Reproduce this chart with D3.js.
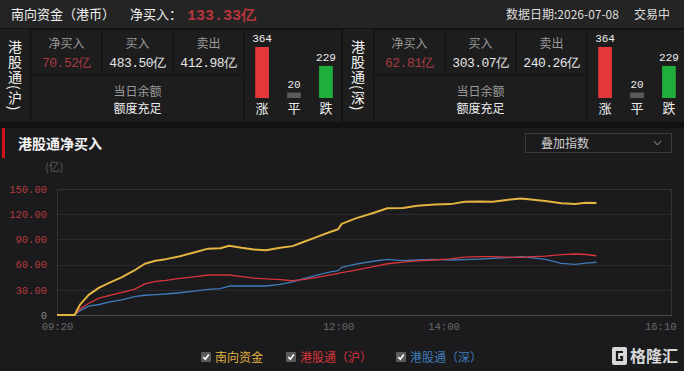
<!DOCTYPE html>
<html>
<head>
<meta charset="utf-8">
<script src="https://cdn.jsdelivr.net/npm/d3@7"></script>
<style>
  html, body { margin: 0; padding: 0; background: #121212; }
  svg { display: block; font-family: "Noto Sans CJK SC", "Noto Sans", sans-serif; }
  .mono { font-family: "Liberation Mono", "DejaVu Sans Mono", monospace; }
</style>
</head>
<body>
<div id="chart"></div>
<script>
// intraday net buy (亿), trading minutes with lunch break removed
const times = ["09:20","09:30","09:33","09:38","09:44","09:50","09:57","10:04","10:10","10:16","10:22","10:30","10:38","10:46","10:53","10:58","11:05","11:12","11:19","11:27","11:34","11:41","11:48","11:55","12:00","13:02","13:10","13:20","13:28","13:37","13:45","13:55","14:04","14:12","14:20","14:28","14:36","14:44","14:51","14:58","15:07","15:15","15:21","15:27"]
const southbound = [0,0,12,24,32.5,38.5,45,53,61,64.5,66.5,70,74.5,79,79.5,82.5,80,78,77,80,82,87.5,93,98.5,102,108.5,115,121.5,127,127.5,130,131.5,132,134.8,135,134.8,137,138.8,137.3,135.7,133,132.2,133.5,133.33]
const shanghai = [0,0,7,14,20,23.5,27,30.6,37,40,41.2,43.5,45.5,47.6,47.8,47.6,45.6,43.8,43,42,40.8,42.5,44.8,47.5,49.6,50.5,53.5,57.5,61,63,64.5,65.5,66.7,69,69.4,69.4,69,68.7,69.5,70.2,71.8,72.6,72,70.52]
const shenzhen = [0,0,5,10.5,12.5,15.5,18,21.8,23.5,24.3,25,26.5,28.5,30.6,31.5,34.5,34.5,34.5,34.5,36.5,39.5,43.5,47.6,51,52.8,56.7,60.5,64,66.3,64.8,65.5,66.3,65.5,66,66.5,67.3,68.2,69.4,68,66.3,61.5,60.3,61.8,62.81]

const yTicks = [0, 30, 60, 90, 120, 150]
const xTickLabels = ["09:20", "12:00", "14:00", "16:10"]

const seriesNames = ["南向资金", "港股通（沪）", "港股通（深）"]
const seriesColors = ["#e3b440", "#d8353b", "#3f7bba"]

// summary panels
const panelNames = ["港股通(沪)", "港股通(深)"]
const panelNetBuy = ["70.52亿", "62.81亿"]
const panelBuy = ["483.50亿", "303.07亿"]
const panelSell = ["412.98亿", "240.26亿"]
const breadthLabels = ["涨", "平", "跌"]
const breadthCounts = [364, 20, 229]
const breadthColors = ["#e3373a", "#5a5a5a", "#1fae3c"]

const width = 684
const height = 371

const svg = d3.select("#chart")
  .append("svg")
  .attr("width", width)
  .attr("height", height)

// ---------- header bar ----------
svg.append("rect").attr("x", 0).attr("y", 0).attr("width", width).attr("height", 28).attr("fill", "#242424")

svg.append("text").attr("x", 11).attr("y", 19).attr("fill", "#f0f0f0").attr("font-size", 13).text("南向资金（港币）")
svg.append("text").attr("x", 130).attr("y", 19).attr("fill", "#f0f0f0").attr("font-size", 13).text("净买入：")
svg.append("text").attr("x", 187).attr("y", 20).attr("fill", "#b8343e").attr("font-size", 15)
  .attr("font-weight", "bold").attr("class", "mono").text("133.33亿")
svg.append("text").attr("x", 506).attr("y", 19).attr("fill", "#dddddd").attr("font-size", 12).text("数据日期:2026-07-08")
svg.append("text").attr("x", 634).attr("y", 19).attr("fill", "#dddddd").attr("font-size", 12).text("交易中")

// ---------- connect panels ----------
const panelTop = 29
const panelBottom = 122

panelNames.forEach((name, i) => {
  const ox = i * 343
  const p = svg.append("g").attr("transform", `translate(${ox},0)`)

  p.append("rect").attr("x", 0).attr("y", panelTop).attr("width", 341).attr("height", panelBottom - panelTop).attr("fill", "#161617")
  p.append("rect").attr("x", 0).attr("y", panelTop).attr("width", 30).attr("height", panelBottom - panelTop).attr("fill", "#1d1d1e")

  p.append("text")
    .attr("x", 15).attr("y", 40)
    .attr("fill", "#f2f2f2").attr("font-size", 14)
    .style("writing-mode", "vertical-rl")
    .style("letter-spacing", "1px")
    .text(name)

  // three top cells
  const cells = [["净买入", panelNetBuy[i], "#a93b40"], ["买入", panelBuy[i], "#e6e6e6"], ["卖出", panelSell[i], "#e6e6e6"]]
  cells.forEach((c, j) => {
    const cx = 32 + j * 71
    p.append("rect").attr("x", cx).attr("y", panelTop + 1).attr("width", 69).attr("height", 44).attr("fill", "#1d1d1e")
    p.append("text").attr("x", cx + 34.5).attr("y", 48).attr("text-anchor", "middle")
      .attr("fill", "#9a9a9a").attr("font-size", 12).text(c[0])
    p.append("text").attr("x", cx + 34.5).attr("y", 67).attr("text-anchor", "middle")
      .attr("fill", c[2]).attr("font-size", 13).attr("class", "mono").style("letter-spacing", "-0.5px").text(c[1])
  })

  p.append("rect").attr("x", 32).attr("y", 76).attr("width", 211).attr("height", 45).attr("fill", "#1d1d1e")
  p.append("text").attr("x", 137.5).attr("y", 96).attr("text-anchor", "middle").attr("fill", "#9a9a9a").attr("font-size", 12).text("当日余额")
  p.append("text").attr("x", 137.5).attr("y", 113).attr("text-anchor", "middle").attr("fill", "#eeeeee").attr("font-size", 12).text("额度充足")

  p.append("rect").attr("x", 245).attr("y", panelTop + 1).attr("width", 96).attr("height", panelBottom - panelTop - 1).attr("fill", "#1d1d1e")

  // rise / flat / fall bars
  const bx = d3.scaleBand().domain(breadthLabels).range([252, 336]).paddingInner(0.57).paddingOuter(0.1)
  const bh = d3.scaleLinear().domain([0, d3.max(breadthCounts)]).range([0, 51])
  const base = 98

  breadthLabels.forEach((lab, k) => {
    const h = Math.max(bh(breadthCounts[k]), 5.5)
    p.append("rect").attr("x", bx(lab)).attr("y", base - h).attr("width", bx.bandwidth()).attr("height", h).attr("fill", breadthColors[k])
    p.append("text").attr("x", bx(lab) + bx.bandwidth() / 2).attr("y", base - h - 5).attr("text-anchor", "middle")
      .attr("fill", "#eeeeee").attr("font-size", 11).attr("class", "mono").text(breadthCounts[k])
    p.append("text").attr("x", bx(lab) + bx.bandwidth() / 2).attr("y", 113).attr("text-anchor", "middle")
      .attr("fill", "#eeeeee").attr("font-size", 13).text(lab)
  })
})

// ---------- chart section ----------
svg.append("rect").attr("x", 0).attr("y", 128).attr("width", width).attr("height", height - 128).attr("fill", "#1b1b1d")
svg.append("rect").attr("x", 2).attr("y", 128).attr("width", 3).attr("height", 30).attr("fill", "#d0121a")
svg.append("text").attr("x", 18).attr("y", 149).attr("fill", "#f4f4f4").attr("font-size", 14).attr("font-weight", "bold").text("港股通净买入")
svg.append("text").attr("x", 45).attr("y", 171).attr("fill", "#5e5e5e").attr("font-size", 11).text("(亿)")

// overlay index dropdown
svg.append("rect").attr("x", 525.5).attr("y", 133.5).attr("width", 146).attr("height", 19).attr("fill", "none").attr("stroke", "#3a3a3c")
svg.append("text").attr("x", 541).attr("y", 148).attr("fill", "#cfcfcf").attr("font-size", 12).text("叠加指数")
svg.append("path").attr("d", "M654,141 L657.5,145 L661,141").attr("fill", "none").attr("stroke", "#9a9a9a").attr("stroke-width", 1)

const margin = { left: 57, right: 12, top: 189, bottom: 56 }

// trading minute from 09:20, lunch 12:00-13:00 collapsed
function tradeMinute(t) {
  const [h, m] = t.split(":").map(Number)
  const mins = h * 60 + m
  return mins <= 720 ? mins - 560 : mins - 780 + 160
}

const xScale = d3.scaleLinear()
  .domain([0, tradeMinute("16:10")])
  .range([margin.left, width - margin.right])

const yScale = d3.scaleLinear()
  .domain([0, 150])
  .range([height - margin.bottom, margin.top])

// grid
svg.append("g")
  .selectAll("line")
  .data(yTicks.slice(1))
  .enter()
  .append("line")
  .attr("x1", margin.left).attr("x2", width - margin.right)
  .attr("y1", d => Math.round(yScale(d)) + 0.5).attr("y2", d => Math.round(yScale(d)) + 0.5)
  .attr("stroke", d => d === 150 ? "#333335" : "#2a2a2c")

svg.append("line")
  .attr("x1", margin.left + 0.5).attr("x2", margin.left + 0.5)
  .attr("y1", yScale(150)).attr("y2", yScale(0))
  .attr("stroke", "#333335")
svg.append("line")
  .attr("x1", width - margin.right - 0.5).attr("x2", width - margin.right - 0.5)
  .attr("y1", yScale(150)).attr("y2", yScale(0))
  .attr("stroke", "#333335")
svg.append("line")
  .attr("x1", margin.left).attr("x2", width - margin.right)
  .attr("y1", Math.round(yScale(0)) + 0.5).attr("y2", Math.round(yScale(0)) + 0.5)
  .attr("stroke", "#4a4a4c")

// y axis labels
const yAxis = d3.axisLeft(yScale)
  .tickValues(yTicks)
  .tickSize(0)
  .tickPadding(10)
  .tickFormat(d => d === 0 ? "0" : d3.format(".2f")(d))

const yG = svg.append("g")
  .attr("transform", `translate(${margin.left},0)`)
  .call(yAxis)
yG.select(".domain").remove()
yG.selectAll("text")
  .attr("class", "mono")
  .attr("font-size", 10.5)
  .attr("fill", d => d === 0 ? "#8a8a8a" : "#b63a3c")

// x axis labels
const xAxis = d3.axisBottom(xScale)
  .tickValues(xTickLabels.map(tradeMinute))
  .tickSize(0)
  .tickPadding(8)
  .tickFormat((d, i) => xTickLabels[i])

const xG = svg.append("g")
  .attr("transform", `translate(0,${yScale(0)})`)
  .call(xAxis)
xG.select(".domain").remove()
xG.selectAll("text")
  .attr("class", "mono")
  .attr("font-size", 10.5)
  .attr("fill", "#6a6a6a")
  .attr("text-anchor", (d, i) => i === xTickLabels.length - 1 ? "end" : "middle")
  .attr("dx", (d, i) => i === xTickLabels.length - 1 ? 4 : 0)

// lines
const line = d3.line()
  .x((d, i) => xScale(tradeMinute(times[i])))
  .y(d => yScale(d))

const allSeries = [shenzhen, shanghai, southbound]
const drawColors = [seriesColors[2], seriesColors[1], seriesColors[0]]
const drawWidths = [1.3, 1.3, 2]

allSeries.forEach((s, i) => {
  svg.append("path")
    .datum(s)
    .attr("d", line)
    .attr("fill", "none")
    .attr("stroke", drawColors[i])
    .attr("stroke-width", drawWidths[i])
    .attr("stroke-linejoin", "round")
})

// legend
const legendX = [201, 286, 396]
seriesNames.forEach((name, i) => {
  const g = svg.append("g").attr("transform", `translate(${legendX[i]},352)`)
  g.append("rect").attr("x", 0).attr("y", 0).attr("width", 10).attr("height", 10).attr("rx", 1).attr("fill", "#5b5b5d")
  g.append("path").attr("d", "M2.3,5 L4.3,7.2 L7.8,2.6").attr("fill", "none").attr("stroke", "#ffffff").attr("stroke-width", 1.6)
  g.append("text").attr("x", 14).attr("y", 10).attr("fill", seriesColors[i]).attr("font-size", 12).text(name)
})

// watermark
const wm = svg.append("g").attr("transform", "translate(612,347)")
wm.append("rect").attr("x", 0).attr("y", 0).attr("width", 15).attr("height", 18).attr("rx", 2).attr("fill", "#d8d8d8")
wm.append("path").attr("d", "M11,5 L5,5 L5,13 L10,13 L10,10 L8,10").attr("fill", "none").attr("stroke", "#1b1b1d").attr("stroke-width", 2.2)
wm.append("text").attr("x", 18).attr("y", 15).attr("fill", "#d8d8d8").attr("font-size", 16).attr("font-weight", "bold").text("格隆汇")
</script>
</body>
</html>
